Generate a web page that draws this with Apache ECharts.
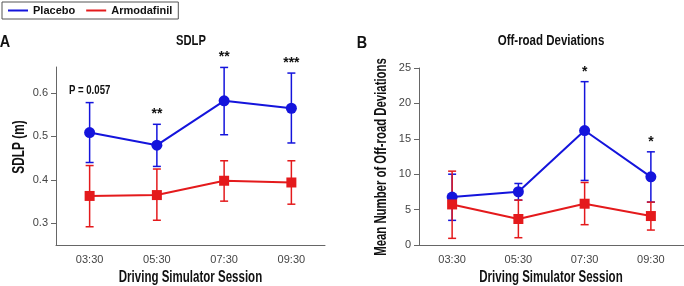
<!DOCTYPE html>
<html>
<head>
<meta charset="utf-8">
<script src="https://cdn.jsdelivr.net/npm/echarts@6/dist/echarts.min.js"></script>
<style>
  html, body { margin: 0; padding: 0; background: #fff; }
  #chart { width: 684px; height: 286px; }
</style>
</head>
<body>
<div id="chart"></div>
<script>
const sessions = ['03:30', '05:30', '07:30', '09:30'];

// SDLP (m)
const sdlpPlacebo = [0.509, 0.480, 0.582, 0.565];
const sdlpPlaceboLow = [0.440, 0.431, 0.504, 0.485];
const sdlpPlaceboHigh = [0.578, 0.528, 0.659, 0.646];
const sdlpArmo = [0.363, 0.365, 0.398, 0.394];
const sdlpArmoLow = [0.292, 0.307, 0.351, 0.344];
const sdlpArmoHigh = [0.433, 0.425, 0.444, 0.444];
const sdlpNotes = ['P = 0.057', '**', '**', '***'];
const sdlpTicks = [0.3, 0.4, 0.5, 0.6];

// off-road deviations
const offPlacebo = [6.77, 7.52, 16.17, 9.63];
const offPlaceboLow = [3.48, 6.34, 9.12, 6.06];
const offPlaceboHigh = [10.0, 8.69, 23.07, 13.16];
const offArmo = [5.73, 3.67, 5.83, 4.09];
const offArmoLow = [0.94, 1.03, 2.87, 2.11];
const offArmoHigh = [10.43, 6.34, 8.83, 6.06];
const offNotes = ['', '', '*', '*'];
const offTicks = [0, 5, 10, 15, 20, 25];

const BLUE = '#1414dc';
const RED = '#e41a1c';
const FONT = '"Liberation Sans", Arial, sans-serif';
const AXIS = '#666';
const INK = '#111';

const chart = echarts.init(document.getElementById('chart'), null, { renderer: 'canvas' });

function errorBars(name, low, high, color, axis) {
  return {
    name: name,
    type: 'custom',
    xAxisIndex: axis,
    yAxisIndex: axis,
    silent: true,
    z: 2,
    data: sessions.map((s, i) => [i, low[i], high[i]]),
    renderItem: (params, api) => {
      const lo = api.coord([api.value(0), api.value(1)]);
      const hi = api.coord([api.value(0), api.value(2)]);
      const w = 4;
      const st = { stroke: color, lineWidth: 1.5 };
      return {
        type: 'group',
        children: [
          { type: 'line', shape: { x1: lo[0], y1: lo[1], x2: hi[0], y2: hi[1] }, style: st },
          { type: 'line', shape: { x1: lo[0] - w, y1: lo[1], x2: lo[0] + w, y2: lo[1] }, style: st },
          { type: 'line', shape: { x1: hi[0] - w, y1: hi[1], x2: hi[0] + w, y2: hi[1] }, style: st },
        ],
      };
    },
  };
}

// significance marks sit just above the placebo upper error bar
function notes(texts, high, axis) {
  return {
    type: 'custom',
    xAxisIndex: axis,
    yAxisIndex: axis,
    silent: true,
    clip: false,
    data: sessions.map((s, i) => [i, high[i]]),
    renderItem: (params, api) => {
      const p = api.coord([api.value(0), api.value(1)]);
      const t = texts[params.dataIndex];
      const star = t.charAt(0) === '*';
      return {
        type: 'text',
        x: p[0],
        y: p[1] - (star ? 10 : 12),
        scaleX: star ? 1 : 0.8,
        style: {
          text: t,
          fill: INK,
          font: 'bold ' + (star ? 14 : 12) + 'px ' + FONT,
          align: 'center',
          verticalAlign: 'middle',
        },
      };
    },
  };
}

function meanLine(name, values, color, symbol, axis) {
  return {
    name: name,
    type: 'line',
    xAxisIndex: axis,
    yAxisIndex: axis,
    data: values,
    symbol: symbol,
    symbolSize: symbol === 'circle' ? 11 : 10,
    lineStyle: { color: color, width: 2 },
    itemStyle: { color: color },
    z: 3,
  };
}

// condensed-looking bold label (the source uses a narrow Helvetica)
function label(text, x, y, size, sx, rotate) {
  return {
    type: 'text',
    x: x,
    y: y,
    rotation: rotate ? Math.PI / 2 : 0,
    scaleX: sx,
    style: {
      text: text,
      fill: INK,
      font: 'bold ' + size + 'px ' + FONT,
      align: 'center',
      verticalAlign: 'middle',
    },
  };
}

const xAxisBase = {
  type: 'category',
  data: sessions,
  boundaryGap: true,
  axisLine: { lineStyle: { color: AXIS, width: 1 } },
  axisTick: { alignWithLabel: true, length: 4, lineStyle: { color: AXIS } },
  axisLabel: { color: '#444', fontFamily: FONT, fontSize: 11, margin: 9 },
  splitLine: { show: false },
};

const yAxisBase = {
  type: 'value',
  axisLine: { show: true, lineStyle: { color: AXIS, width: 1 } },
  axisTick: { show: true, length: 5, lineStyle: { color: AXIS } },
  axisLabel: { color: '#444', fontFamily: FONT, fontSize: 11, margin: 8 },
  splitLine: { show: false },
};

const option = {
  animation: false,
  backgroundColor: '#fff',
  textStyle: { fontFamily: FONT },
  legend: {
    left: 2,
    top: 2,
    padding: [3, 6, 3, 6],
    borderColor: '#555',
    borderWidth: 1,
    borderRadius: 0,
    itemGap: 11,
    itemWidth: 20,
    itemHeight: 2,
    textStyle: { fontFamily: FONT, fontWeight: 'bold', fontSize: 11, color: INK },
    data: [
      { name: 'Placebo', icon: 'rect', itemStyle: { color: BLUE } },
      { name: 'Armodafinil', icon: 'rect', itemStyle: { color: RED } },
    ],
  },
  graphic: [
    label('A', 5, 43, 16, 0.9, false),
    label('B', 362, 44, 16, 0.9, false),
    label('SDLP', 191, 41, 14, 0.8, false),
    label('Off-road Deviations', 551, 41, 14, 0.82, false),
    label('Driving Simulator Session', 190.5, 278, 16, 0.72, false),
    label('Driving Simulator Session', 551, 278, 16, 0.72, false),
    label('SDLP (m)', 20, 147, 16, 0.74, true),
    label('Mean Number of Off-road Deviations', 382, 157, 16, 0.71, true),
  ],
  grid: [
    { left: 56, width: 269, top: 67, bottom: 41 },
    { left: 419, width: 265, top: 68, bottom: 41 },
  ],
  xAxis: [
    Object.assign({}, xAxisBase, { gridIndex: 0 }),
    Object.assign({}, xAxisBase, { gridIndex: 1 }),
  ],
  yAxis: [
    Object.assign({}, yAxisBase, {
      gridIndex: 0,
      min: 0.25,
      max: 0.66,
      axisTick: Object.assign({}, yAxisBase.axisTick, { customValues: sdlpTicks }),
      axisLabel: Object.assign({}, yAxisBase.axisLabel, {
        customValues: sdlpTicks,
        formatter: (v) => v.toFixed(1),
      }),
    }),
    Object.assign({}, yAxisBase, {
      gridIndex: 1,
      min: 0,
      max: 25,
      interval: 5,
      axisTick: Object.assign({}, yAxisBase.axisTick, { customValues: offTicks }),
      axisLabel: Object.assign({}, yAxisBase.axisLabel, { customValues: offTicks }),
    }),
  ],
  series: [
    errorBars('Placebo', sdlpPlaceboLow, sdlpPlaceboHigh, BLUE, 0),
    meanLine('Placebo', sdlpPlacebo, BLUE, 'circle', 0),
    errorBars('Armodafinil', sdlpArmoLow, sdlpArmoHigh, RED, 0),
    meanLine('Armodafinil', sdlpArmo, RED, 'rect', 0),
    notes(sdlpNotes, sdlpPlaceboHigh, 0),

    errorBars('Placebo', offPlaceboLow, offPlaceboHigh, BLUE, 1),
    meanLine('Placebo', offPlacebo, BLUE, 'circle', 1),
    errorBars('Armodafinil', offArmoLow, offArmoHigh, RED, 1),
    meanLine('Armodafinil', offArmo, RED, 'rect', 1),
    notes(offNotes, offPlaceboHigh, 1),
  ],
};

chart.setOption(option);
window.addEventListener('resize', () => chart.resize());
</script>
</body>
</html>
